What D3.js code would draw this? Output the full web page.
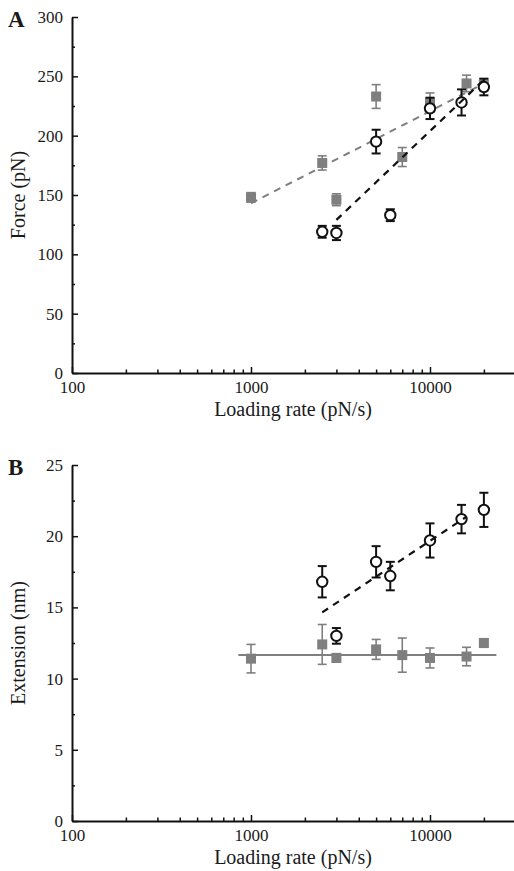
<!DOCTYPE html>
<html><head><meta charset="utf-8">
<script src="https://cdn.jsdelivr.net/npm/d3@7"></script>
<style>
html,body{margin:0;padding:0;background:#fff;}
svg text{font-family:"Liberation Serif","Times New Roman",serif;fill:#1a1a1a;}
</style></head>
<body><svg id="chart" width="514" height="871"></svg>
<script>
// ---- data ----
const forceSquareRates = [1000, 2500, 3000, 5000, 7000, 10000, 16000, 20000];
const forceSquareValues = [148, 177, 146, 233, 182, 228, 244, 243];
const forceSquareErrors = [4, 6, 5, 10, 8, 8, 7, 5];
const forceCircleRates = [2500, 3000, 5000, 6000, 10000, 15000, 20000];
const forceCircleValues = [119, 118, 195, 133, 223, 228, 241];
const forceCircleErrors = [5, 6, 10, 5, 9, 11, 7];
const forceGrayFitX = [1000, 20000];
const forceGrayFitY = [143, 244];
const forceBlackFitX = [3000, 20000];
const forceBlackFitY = [129, 247];

const extSquareRates = [1000, 2500, 3000, 5000, 7000, 10000, 16000, 20000];
const extSquareValues = [11.4, 12.4, 11.45, 12.05, 11.65, 11.45, 11.55, 12.5];
const extSquareErrors = [1.0, 1.4, 0.3, 0.7, 1.2, 0.7, 0.65, 0.3];
const extCircleRates = [2500, 3000, 5000, 6000, 10000, 15000, 20000];
const extCircleValues = [16.8, 13.0, 18.2, 17.2, 19.7, 21.2, 21.85];
const extCircleErrors = [1.1, 0.55, 1.1, 1.0, 1.2, 1.0, 1.2];
const extGrayFitX = [850, 23500];
const extGrayFitY = [11.65, 11.65];
const extBlackFitX = [2500, 16000];
const extBlackFitY = [14.65, 21.37];

const xDomain = [100, 30000];
const xTickLabels = ["100", "1000", "10000"];
const forceYTicks = [0, 50, 100, 150, 200, 250, 300];
const extYTicks = [0, 5, 10, 15, 20, 25];

const svg = d3.select("#chart");
const GRAY = "#7f7f7f";

function panel(cfg) {
  const g = svg.append("g");
  const x = d3.scaleLog().domain(xDomain).range([72, 515.4]);
  const y = d3.scaleLinear().domain(cfg.yDomain).range([cfg.y0, cfg.y1]);

  // x axis
  const xMinor = [];
  for (let d = 100; d <= 30000; d *= 10) for (let k = 2; k <= 9; k++) if (d*k <= 30000) xMinor.push(d*k);
  const xAx = g.append("g").attr("transform", `translate(0,${cfg.y0})`);
  xAx.call(d3.axisBottom(x).tickValues(xMinor).tickSizeInner(-3.5).tickSizeOuter(0).tickFormat(""));
  xAx.append("g").call(d3.axisBottom(x).tickValues(xTickLabels.map(Number)).tickSizeInner(-6).tickSizeOuter(0).tickPadding(8).tickFormat((d,i)=>xTickLabels[i]));
  xAx.selectAll(".domain").attr("stroke", "#111").attr("stroke-width", 2);
  xAx.selectAll(".tick line").attr("stroke", "#111").attr("stroke-width", 1.5);
  xAx.selectAll("text").style("font-size", "17px").attr("fill", "#1a1a1a");
  xAx.selectAll(".domain").filter((d,i,n)=>n[i].parentNode !== xAx.node()).remove();

  // y axis
  const yAx = g.append("g").attr("transform", "translate(72,0)");
  const yMinor = cfg.yMajor.slice(0, -1).map((v,i)=> (v + cfg.yMajor[i+1]) / 2);
  yAx.call(d3.axisLeft(y).tickValues(yMinor).tickSizeInner(-3).tickSizeOuter(0).tickFormat(""));
  yAx.append("g").call(d3.axisLeft(y).tickValues(cfg.yMajor).tickSizeInner(-6).tickSizeOuter(0).tickPadding(9));
  yAx.selectAll(".domain").attr("stroke", "#111").attr("stroke-width", 2);
  yAx.selectAll(".tick line").attr("stroke", "#111").attr("stroke-width", 1.5);
  yAx.selectAll("text").style("font-size", "17px").attr("fill", "#1a1a1a");
  yAx.selectAll(".domain").filter((d,i,n)=>n[i].parentNode !== yAx.node()).remove();

  // titles
  g.append("text").attr("x", 293).attr("y", cfg.y0 + 43).attr("text-anchor", "middle")
    .style("font-size", "20px").text("Loading rate (pN/s)");
  g.append("text").attr("transform", `translate(25,${(cfg.y0 + cfg.y1)/2}) rotate(-90)`)
    .attr("text-anchor", "middle").style("font-size", "20px").text(cfg.yTitle);
  g.append("text").attr("x", 8).attr("y", cfg.y1 + 10).style("font-size", "23px")
    .style("font-weight", "bold").text(cfg.letter);

  const line = d3.line().x(d=>x(d[0])).y(d=>y(d[1]));
  // gray fit
  g.append("path").datum(d3.zip(cfg.grayFitX, cfg.grayFitY)).attr("d", line)
    .attr("fill", "none").attr("stroke", GRAY).attr("stroke-width", 2)
    .attr("stroke-dasharray", cfg.grayDash);

  // gray squares with error bars
  const sq = d3.zip(cfg.sqX, cfg.sqY, cfg.sqE);
  const sg = g.append("g");
  sq.forEach(([r,v,e]) => {
    const cx = x(r);
    sg.append("line").attr("x1", cx).attr("x2", cx).attr("y1", y(v+e)).attr("y2", y(v-e)).attr("stroke", GRAY).attr("stroke-width", 1.6);
    [v+e, v-e].forEach(t => sg.append("line").attr("x1", cx-4.5).attr("x2", cx+4.5).attr("y1", y(t)).attr("y2", y(t)).attr("stroke", GRAY).attr("stroke-width", 1.6));
    sg.append("rect").attr("x", cx-5).attr("y", y(v)-5).attr("width", 10).attr("height", 10).attr("fill", GRAY);
  });

  // circles with error bars
  const ci = d3.zip(cfg.ciX, cfg.ciY, cfg.ciE);
  const cg = g.append("g");
  ci.forEach(([r,v,e]) => {
    const cx = x(r);
    cg.append("line").attr("x1", cx).attr("x2", cx).attr("y1", y(v+e)).attr("y2", y(v-e)).attr("stroke", "#111").attr("stroke-width", 2);
    [v+e, v-e].forEach(t => cg.append("line").attr("x1", cx-4.5).attr("x2", cx+4.5).attr("y1", y(t)).attr("y2", y(t)).attr("stroke", "#111").attr("stroke-width", 2));
    cg.append("circle").attr("cx", cx).attr("cy", y(v)).attr("r", 5.2).attr("fill", "#fff").attr("stroke", "#111").attr("stroke-width", 2);
  });

  // black fit
  g.append("path").datum(d3.zip(cfg.blackFitX, cfg.blackFitY)).attr("d", line)
    .attr("fill", "none").attr("stroke", "#111").attr("stroke-width", 2.2)
    .attr("stroke-dasharray", "7,6");
}

panel({
  yDomain: [0, 300], y0: 373, y1: 17, yMajor: forceYTicks, yTitle: "Force (pN)", letter: "A",
  sqX: forceSquareRates, sqY: forceSquareValues, sqE: forceSquareErrors,
  ciX: forceCircleRates, ciY: forceCircleValues, ciE: forceCircleErrors,
  grayFitX: forceGrayFitX, grayFitY: forceGrayFitY, grayDash: "7,6",
  blackFitX: forceBlackFitX, blackFitY: forceBlackFitY
});
panel({
  yDomain: [0, 25], y0: 821, y1: 465, yMajor: extYTicks, yTitle: "Extension (nm)", letter: "B",
  sqX: extSquareRates, sqY: extSquareValues, sqE: extSquareErrors,
  ciX: extCircleRates, ciY: extCircleValues, ciE: extCircleErrors,
  grayFitX: extGrayFitX, grayFitY: extGrayFitY, grayDash: null,
  blackFitX: extBlackFitX, blackFitY: extBlackFitY
});
</script></body></html>
